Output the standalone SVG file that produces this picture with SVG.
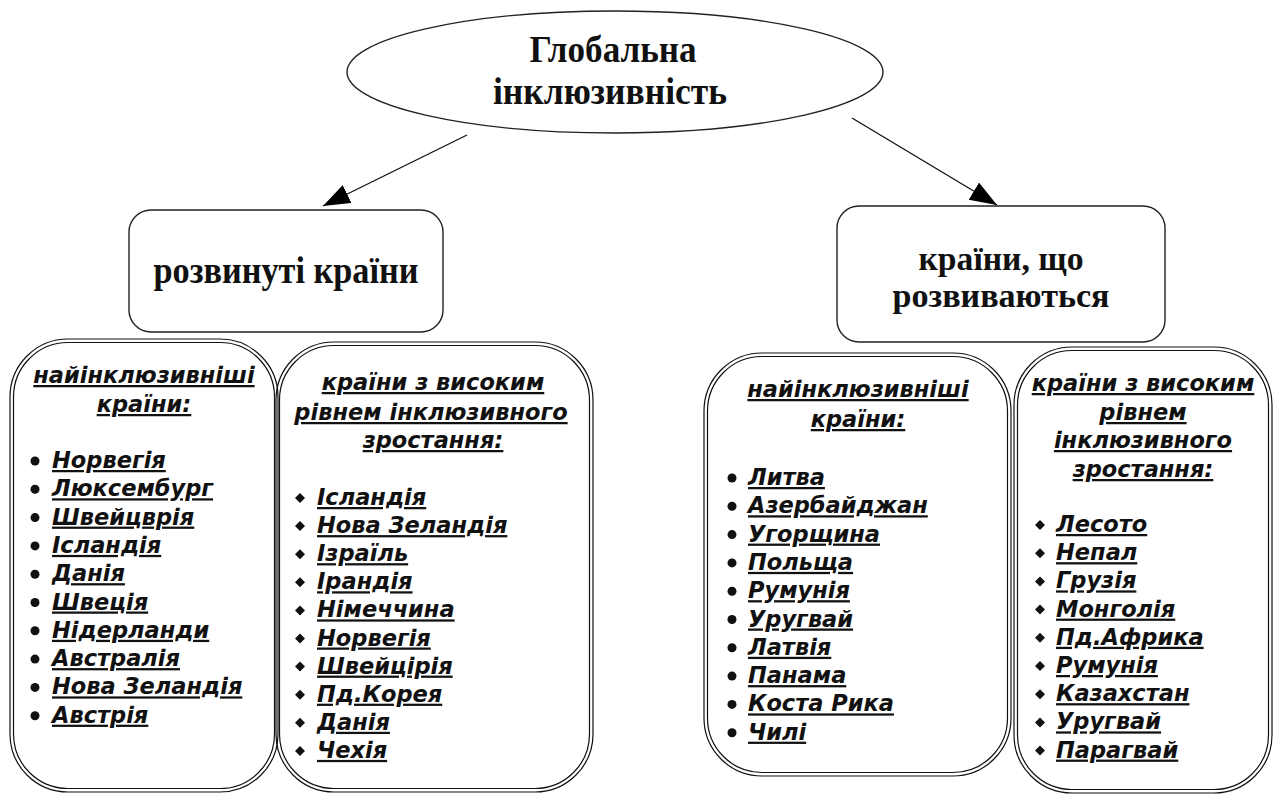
<svg xmlns="http://www.w3.org/2000/svg" width="1275" height="798" viewBox="0 0 1275 798">
<style>
.bg{fill:#fff}
.ln{fill:none;stroke:#111;stroke-width:1.3}
.box{fill:#fff;stroke:#222;stroke-width:1.4}
.dbl{fill:none;stroke:#111;stroke-width:1.2}
.h{font-family:"Liberation Serif","Times New Roman",serif;font-weight:bold;font-size:38px;text-anchor:middle;fill:#111}
.h2{font-size:33px}
.t{font-family:"DejaVu Sans",Verdana,sans-serif;font-weight:bold;font-style:italic;font-size:22.5px;text-decoration:underline;fill:#111}
.c{text-anchor:middle}
.dot{fill:#111}
</style>
<defs>
<marker id="arr" markerUnits="userSpaceOnUse" markerWidth="28" markerHeight="22" refX="27" refY="10" orient="auto">
<path d="M0,0 L27,10 L0,20 z" fill="#000"/>
</marker>
<path id="dia" d="M0,-5 L5,0 L0,5 L-5,0 z"/>
</defs>
<rect class="bg" x="0" y="0" width="1275" height="798"/>

<g id="connectors">
<line class="ln" x1="467" y1="135" x2="323" y2="206" marker-end="url(#arr)"/>
<line class="ln" x1="852" y1="118" x2="997" y2="205" marker-end="url(#arr)"/>
</g>

<g id="root">
<ellipse class="box" cx="615" cy="72" rx="268" ry="61"/>
<text class="h" x="613" y="62" textLength="167" lengthAdjust="spacingAndGlyphs">Глобальна</text>
<text class="h" x="610" y="104" textLength="234" lengthAdjust="spacingAndGlyphs">інклюзивність</text>
</g>

<g id="developed">
<rect class="box" x="129" y="210" width="314" height="122" rx="22"/>
<text class="h" x="286" y="283" textLength="265" lengthAdjust="spacingAndGlyphs">розвинуті країни</text>
</g>

<g id="developing">
<rect class="box" x="837" y="206" width="328" height="136" rx="22"/>
<text class="h h2" x="1001" y="270" textLength="165" lengthAdjust="spacingAndGlyphs">країни, що</text>
<text class="h h2" x="1001" y="307" textLength="217" lengthAdjust="spacingAndGlyphs">розвиваються</text>
</g>

<g id="dev-most">
<rect class="dbl" x="10" y="339" width="268" height="453" rx="58" fill="#fff"/>
<rect class="dbl" x="13.5" y="342.5" width="261" height="446" rx="54.5"/>
<text class="t c" x="144" y="383">найінклюзивніші</text>
<text class="t c" x="144" y="412">країни:</text>
<circle class="dot" cx="35" cy="461" r="4.5"/><text class="t" x="52" y="468">Норвегія</text>
<circle class="dot" cx="35" cy="489.3" r="4.5"/><text class="t" x="52" y="496.3">Люксембург</text>
<circle class="dot" cx="35" cy="517.6" r="4.5"/><text class="t" x="52" y="524.6">Швейцврія</text>
<circle class="dot" cx="35" cy="545.9" r="4.5"/><text class="t" x="52" y="552.9">Ісландія</text>
<circle class="dot" cx="35" cy="574.2" r="4.5"/><text class="t" x="52" y="581.2">Данія</text>
<circle class="dot" cx="35" cy="602.5" r="4.5"/><text class="t" x="52" y="609.5">Швеція</text>
<circle class="dot" cx="35" cy="630.8" r="4.5"/><text class="t" x="52" y="637.8">Нідерланди</text>
<circle class="dot" cx="35" cy="659.1" r="4.5"/><text class="t" x="52" y="666.1">Австралія</text>
<circle class="dot" cx="35" cy="687.4" r="4.5"/><text class="t" x="52" y="694.4">Нова Зеландія</text>
<circle class="dot" cx="35" cy="715.7" r="4.5"/><text class="t" x="52" y="722.7">Австрія</text>
</g>

<g id="dev-high">
<rect class="dbl" x="276" y="342" width="317" height="450" rx="58" fill="#fff"/>
<rect class="dbl" x="279.5" y="345.5" width="310" height="443" rx="54.5"/>
<text class="t c" x="433" y="390">країни з високим</text>
<text class="t c" x="431" y="420">рівнем інклюзивного</text>
<text class="t c" x="433" y="448">зростання:</text>
<use href="#dia" class="dot" x="300" y="498"/><text class="t" x="317" y="505">Ісландія</text>
<use href="#dia" class="dot" x="300" y="526.1"/><text class="t" x="317" y="533.1">Нова Зеландія</text>
<use href="#dia" class="dot" x="300" y="554.2"/><text class="t" x="317" y="561.2">Ізраїль</text>
<use href="#dia" class="dot" x="300" y="582.3"/><text class="t" x="317" y="589.3">Ірандія</text>
<use href="#dia" class="dot" x="300" y="610.4"/><text class="t" x="317" y="617.4">Німеччина</text>
<use href="#dia" class="dot" x="300" y="638.5"/><text class="t" x="317" y="645.5">Норвегія</text>
<use href="#dia" class="dot" x="300" y="666.6"/><text class="t" x="317" y="673.6">Швейцірія</text>
<use href="#dia" class="dot" x="300" y="694.7"/><text class="t" x="317" y="701.7">Пд.Корея</text>
<use href="#dia" class="dot" x="300" y="722.8"/><text class="t" x="317" y="729.8">Данія</text>
<use href="#dia" class="dot" x="300" y="750.9"/><text class="t" x="317" y="757.9">Чехія</text>
</g>

<g id="dvg-most">
<rect class="dbl" x="704" y="353" width="307" height="423" rx="58" fill="#fff"/>
<rect class="dbl" x="707.5" y="356.5" width="300" height="416" rx="54.5"/>
<text class="t c" x="858" y="397">найінклюзивніші</text>
<text class="t c" x="858" y="427">країни:</text>
<circle class="dot" cx="732" cy="478" r="4.5"/><text class="t" x="748" y="485">Литва</text>
<circle class="dot" cx="732" cy="506.3" r="4.5"/><text class="t" x="748" y="513.3">Азербайджан</text>
<circle class="dot" cx="732" cy="534.6" r="4.5"/><text class="t" x="748" y="541.6">Угорщина</text>
<circle class="dot" cx="732" cy="562.9" r="4.5"/><text class="t" x="748" y="569.9">Польща</text>
<circle class="dot" cx="732" cy="591.2" r="4.5"/><text class="t" x="748" y="598.2">Румунія</text>
<circle class="dot" cx="732" cy="619.5" r="4.5"/><text class="t" x="748" y="626.5">Уругвай</text>
<circle class="dot" cx="732" cy="647.8" r="4.5"/><text class="t" x="748" y="654.8">Латвія</text>
<circle class="dot" cx="732" cy="676.1" r="4.5"/><text class="t" x="748" y="683.1">Панама</text>
<circle class="dot" cx="732" cy="704.4" r="4.5"/><text class="t" x="748" y="711.4">Коста Рика</text>
<circle class="dot" cx="732" cy="732.7" r="4.5"/><text class="t" x="748" y="739.7">Чилі</text>
</g>

<g id="dvg-high">
<rect class="dbl" x="1014" y="347" width="258" height="446" rx="58" fill="#fff"/>
<rect class="dbl" x="1017.5" y="350.5" width="251" height="439" rx="54.5"/>
<text class="t c" x="1143" y="391">країни з високим</text>
<text class="t c" x="1143" y="420">рівнем</text>
<text class="t c" x="1143" y="448">інклюзивного</text>
<text class="t c" x="1143" y="477">зростання:</text>
<use href="#dia" class="dot" x="1040" y="525"/><text class="t" x="1056" y="532">Лесото</text>
<use href="#dia" class="dot" x="1040" y="553.2"/><text class="t" x="1056" y="560.2">Непал</text>
<use href="#dia" class="dot" x="1040" y="581.4"/><text class="t" x="1056" y="588.4">Грузія</text>
<use href="#dia" class="dot" x="1040" y="609.6"/><text class="t" x="1056" y="616.6">Монголія</text>
<use href="#dia" class="dot" x="1040" y="637.8"/><text class="t" x="1056" y="644.8">Пд.Африка</text>
<use href="#dia" class="dot" x="1040" y="666"/><text class="t" x="1056" y="673">Румунія</text>
<use href="#dia" class="dot" x="1040" y="694.2"/><text class="t" x="1056" y="701.2">Казахстан</text>
<use href="#dia" class="dot" x="1040" y="722.4"/><text class="t" x="1056" y="729.4">Уругвай</text>
<use href="#dia" class="dot" x="1040" y="750.6"/><text class="t" x="1056" y="757.6">Парагвай</text>
</g>
</svg>
